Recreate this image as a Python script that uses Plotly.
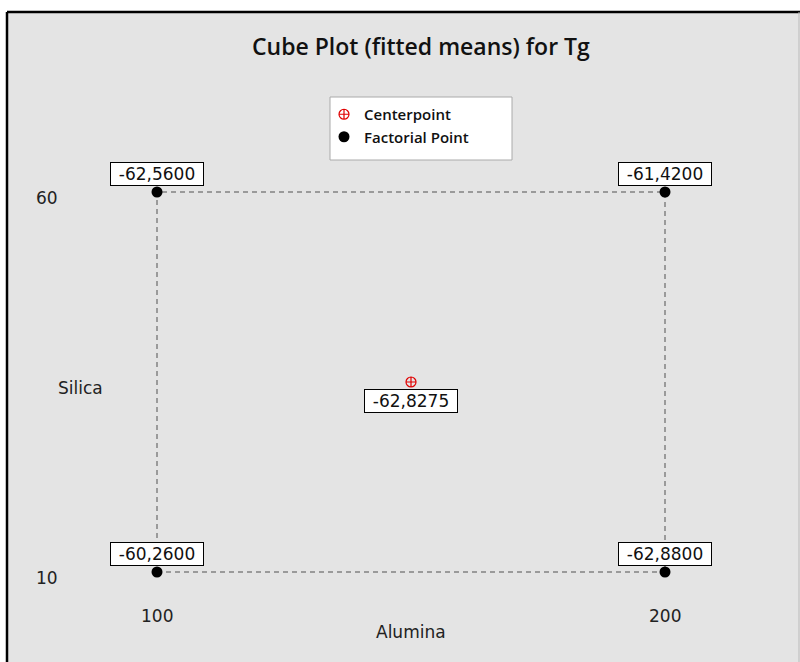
import plotly.graph_objects as go

# ---- data ----
alumina_levels = [100, 200]
silica_levels = [10, 60]
factorial_alumina = [100, 200, 100, 200]
factorial_silica = [60, 60, 10, 10]
factorial_means = [-62.56, -61.42, -60.26, -62.88]
center_alumina = [150]
center_silica = [35]
center_mean = [-62.8275]
x_tick_labels = ["100", "200"]
y_tick_labels = ["10", "60"]

W, H = 800, 662
ML, MR, MT, MB = 55, 34, 100, 40
PW, PH = W - ML - MR, H - MT - MB

# pixel anchors for axis scales
px100, px200 = 157, 665
py60, py10 = 192, 572
sx = (px200 - px100) / (alumina_levels[1] - alumina_levels[0])
sy = (py10 - py60) / (silica_levels[1] - silica_levels[0])
x0 = alumina_levels[0] - (px100 - ML) / sx
x1 = x0 + PW / sx
y1 = silica_levels[1] + (py60 - MT) / sy
y0 = y1 - PH / sy


def pxx(px):
    return (px - ML) / PW


def pxy(py):
    return 1 - (py - MT) / PH


FONT = "DejaVu Sans"
TFONT = "Open Sans"
fig = go.Figure()

# dashed square connecting the factorial corners
sq_x = [alumina_levels[0], alumina_levels[1], alumina_levels[1], alumina_levels[0], alumina_levels[0]]
sq_y = [silica_levels[0], silica_levels[0], silica_levels[1], silica_levels[1], silica_levels[0]]
fig.add_trace(go.Scatter(x=sq_x, y=sq_y, mode="lines",
                         line=dict(color="#505050", width=1, dash="5px,4px"),
                         showlegend=False, hoverinfo="skip"))

fig.add_trace(go.Scatter(x=center_alumina, y=center_silica, mode="markers",
                         name="Centerpoint",
                         marker=dict(symbol="circle-cross-open", size=10,
                                     color="#e00000", line=dict(width=1.2, color="#e00000"))))
fig.add_trace(go.Scatter(x=factorial_alumina, y=factorial_silica, mode="markers",
                         name="Factorial Point",
                         marker=dict(symbol="circle", size=11, color="black")))

def fmt(v):
    return f"{v:.4f}".replace(".", ",")

for xa, ys, m in zip(factorial_alumina, factorial_silica, factorial_means):
    fig.add_annotation(x=xa, y=ys, xref="x", yref="y", text=fmt(m), showarrow=False,
                       xanchor="center", yanchor="bottom", yshift=6, bgcolor="white",
                       bordercolor="black", borderwidth=1, borderpad=1, width=90,
                       font=dict(family=FONT, size=17, color="#111111"))
for xa, ys, m in zip(center_alumina, center_silica, center_mean):
    fig.add_annotation(x=xa, y=ys, xref="x", yref="y", text=fmt(m), showarrow=False,
                       xanchor="center", yanchor="top", yshift=-7, bgcolor="white",
                       bordercolor="black", borderwidth=1, borderpad=1, width=90,
                       font=dict(family=FONT, size=17, color="#111111"))

# tick labels
for v, t in zip(alumina_levels, x_tick_labels):
    fig.add_annotation(x=v, y=pxy(616), xref="x", yref="paper", text=t, showarrow=False,
                       xanchor="center", yanchor="middle",
                       font=dict(family=FONT, size=17, color="#222222"))
for v, t in zip(silica_levels, y_tick_labels):
    fig.add_annotation(x=pxx(47), y=v, xref="paper", yref="y", text=t, showarrow=False,
                       xanchor="center", yanchor="middle", yshift=-6,
                       font=dict(family=FONT, size=17, color="#222222"))

# axis titles
fig.add_annotation(x=pxx(411), y=pxy(632), xref="paper", yref="paper", text="Alumina",
                   xanchor="center", yanchor="middle",
                   showarrow=False, font=dict(family=FONT, size=17, color="#222222"))
fig.add_annotation(x=pxx(80), y=pxy(388), xref="paper", yref="paper", text="Silica",
                   xanchor="center", yanchor="middle",
                   showarrow=False, font=dict(family=FONT, size=17, color="#222222"))

# title
fig.add_annotation(x=pxx(421), y=pxy(46), xref="paper", yref="paper",
                   text="Cube Plot (fitted means) for Tg", showarrow=False,
                   xanchor="center", yanchor="middle",
                   font=dict(family=TFONT, size=23, color="#111111", weight=600))

# frame / background
fig.add_shape(type="rect", xref="paper", yref="paper", x0=pxx(7), x1=pxx(801),
              y0=pxy(663), y1=pxy(12), fillcolor="#e4e4e4", line=dict(width=0), layer="below")
fig.add_shape(type="line", xref="paper", yref="paper", x0=pxx(7), x1=pxx(801),
              y0=pxy(12), y1=pxy(12), line=dict(color="black", width=2.5))
fig.add_shape(type="line", xref="paper", yref="paper", x0=pxx(7), x1=pxx(7),
              y0=pxy(12), y1=pxy(663), line=dict(color="black", width=2.5))
fig.add_shape(type="line", xref="paper", yref="paper", x0=pxx(799), x1=pxx(799),
              y0=pxy(12), y1=pxy(663), line=dict(color="#bbbbbb", width=1))
# legend box
fig.add_shape(type="rect", xref="paper", yref="paper", x0=pxx(330), x1=pxx(512),
              y0=pxy(160), y1=pxy(97), fillcolor="white", line=dict(color="#aaaaaa", width=1),
              layer="below")

fig.update_layout(
    width=W, height=H,
    margin=dict(l=ML, r=MR, t=MT, b=MB),
    paper_bgcolor="white", plot_bgcolor="rgba(0,0,0,0)",
    xaxis=dict(range=[x0, x1], visible=False, fixedrange=True),
    yaxis=dict(range=[y0, y1], visible=False, fixedrange=True),
    legend=dict(x=pxx(324), y=pxy(98), xanchor="left", yanchor="top",
                bgcolor="rgba(0,0,0,0)", borderwidth=0, tracegroupgap=0,
                itemwidth=30,
                font=dict(family=TFONT, size=15, color="#111111", weight=600)),
    hovermode=False,
)

fig.write_html("out.html")
